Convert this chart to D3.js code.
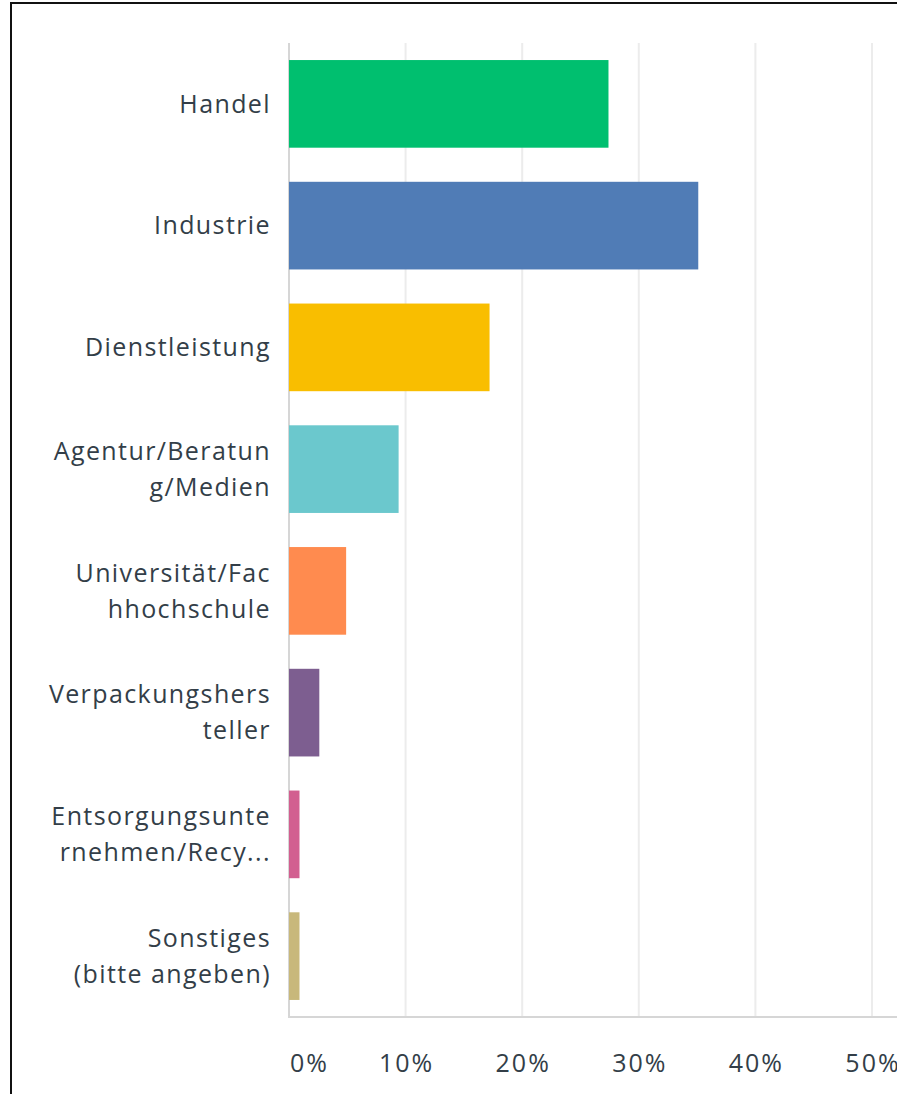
<!DOCTYPE html>
<html>
<head>
<meta charset="utf-8">
<script src="https://cdn.jsdelivr.net/npm/d3@7"></script>
<style>
  body { margin: 0; background: #fff; }
  svg { display: block; }
</style>
</head>
<body>
<div id="chart"></div>
<script>
// DATA
const categories = ["Handel", "Industrie", "Dienstleistung", "Agentur/Beratung/Medien",
  "Universität/Fachhochschule", "Verpackungshersteller",
  "Entsorgungsunternehmen/Recycling", "Sonstiges (bitte angeben)"]
const labelLines = [["Handel"], ["Industrie"], ["Dienstleistung"], ["Agentur/Beratun", "g/Medien"],
  ["Universität/Fac", "hhochschule"], ["Verpackungshers", "teller"],
  ["Entsorgungsunte", "rnehmen/Recy..."], ["Sonstiges", "(bitte angeben)"]]
const values = [27.4, 35.1, 17.2, 9.4, 4.9, 2.6, 0.9, 0.9]
const colors = ["#00bf6f", "#507cb6", "#f9be00", "#6bc8cd", "#ff8b4f", "#7d5e90", "#d25f90", "#c8b87b"]
const ticks = [0, 10, 20, 30, 40, 50]

const width = 897, height = 1094
const data = categories.map((c, i) => ({ cat: c, lines: labelLines[i], value: values[i], color: colors[i] }))

const svg = d3.select("#chart").append("svg")
  .attr("width", width)
  .attr("height", height)

// frame
svg.append("rect")
  .attr("x", 11).attr("y", 3)
  .attr("width", width + 20).attr("height", height + 20)
  .attr("fill", "none")
  .attr("stroke", "#111")
  .attr("stroke-width", 2)

// SCALES
const xScale = d3.scaleLinear().domain([0, 50]).range([289, 872])
const yScale = d3.scaleBand().domain(categories).range([43, 1017])
  .paddingInner(0.28).paddingOuter(0.14)

// gridlines
svg.append("g")
  .selectAll("line")
  .data(ticks.filter(t => t > 0))
  .join("line")
  .attr("x1", d => xScale(d)).attr("x2", d => xScale(d))
  .attr("y1", 43).attr("y2", 1017)
  .attr("stroke", "#ececec")
  .attr("stroke-width", 2)

// axis lines
svg.append("line")
  .attr("x1", xScale(0)).attr("x2", xScale(0))
  .attr("y1", 43).attr("y2", 1018)
  .attr("stroke", "#d6d6d6").attr("stroke-width", 2)
svg.append("line")
  .attr("x1", xScale(0)).attr("x2", width)
  .attr("y1", 1017).attr("y2", 1017)
  .attr("stroke", "#d6d6d6").attr("stroke-width", 2)

// BARS
svg.append("g")
  .selectAll("rect")
  .data(data)
  .join("rect")
  .attr("x", xScale(0))
  .attr("y", d => yScale(d.cat))
  .attr("width", d => xScale(d.value) - xScale(0))
  .attr("height", yScale.bandwidth())
  .attr("fill", d => d.color)

// category labels
const lineH = 36
svg.append("g")
  .selectAll("text")
  .data(data)
  .join("text")
  .attr("text-anchor", "end")
  .attr("font-family", "'Open Sans', sans-serif")
  .attr("font-size", 25)
  .attr("letter-spacing", 1.4)
  .attr("fill", "#333e48")
  .each(function(d) {
    const cy = yScale(d.cat) + yScale.bandwidth() / 2
    const y0 = cy - (d.lines.length - 1) * lineH / 2
    d3.select(this).selectAll("tspan")
      .data(d.lines)
      .join("tspan")
      .attr("x", 271)
      .attr("y", (l, i) => y0 + i * lineH)
      .attr("dy", "0.35em")
      .text(l => l)
  })

// tick labels
svg.append("g")
  .selectAll("text")
  .data(ticks)
  .join("text")
  .attr("x", d => d === 0 ? xScale(0) + 1 : xScale(d) + 1)
  .attr("y", 1072)
  .attr("text-anchor", d => d === 0 ? "start" : "middle")
  .attr("font-family", "'Open Sans', sans-serif")
  .attr("font-size", 25)
  .attr("letter-spacing", 2)
  .attr("fill", "#333e48")
  .text(d => d + "%")
</script>
</body>
</html>
